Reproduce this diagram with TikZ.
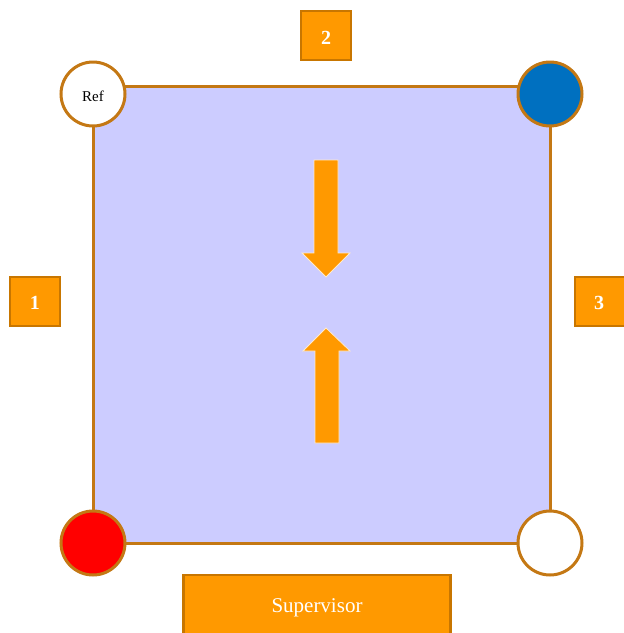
\documentclass[tikz,border=0pt]{standalone}
\usepackage{fontspec}
\setmainfont{Liberation Serif}
\definecolor{edge}{RGB}{196,120,20}
\definecolor{boxedge}{RGB}{200,118,0}
\definecolor{orng}{RGB}{255,153,0}
\definecolor{lav}{RGB}{204,204,255}
\definecolor{blu}{RGB}{0,112,192}
\begin{document}
\begin{tikzpicture}[x=1pt,y=-1pt,
  corner/.style={circle,draw=edge,line width=3pt,minimum size=64pt,inner sep=0pt},
  numbox/.style={draw=boxedge,fill=orng,line width=2.4pt,minimum width=50pt,minimum height=49pt,inner sep=0pt},
  numtext/.style={text=white,font=\bfseries\fontsize{20}{20}\selectfont},
  bigarrow/.style={fill=orng,draw=white!80!orng,line width=0.8pt}]
\useasboundingbox (0,0) rectangle (624,633);
\begin{scope}
\clip (0,0) rectangle (624,633);
\node[draw=edge,fill=lav,line width=3pt,minimum width=457pt,minimum height=457pt,inner sep=0pt] (sq) at (321.5,314.5) {};
\node[corner,fill=white] (ref) at (93,94) {};
\node[font=\fontsize{15}{15}\selectfont] (reflabel) at (93,96) {Ref};
\node[corner,fill=blu] (tr) at (550,94) {};
\node[corner,fill=red] (bl) at (93,543) {};
\node[corner,fill=white] (br) at (550,543) {};
\node[numbox] (b2) at (326,35.5) {};
\node[numtext] (t2) at (326,38) {2};
\node[numbox] (b1) at (35,301.5) {};
\node[numtext] (t1) at (35,303) {1};
\node[numbox] (b3) at (600,301.5) {};
\node[numtext] (t3) at (599,303) {3};
\node[draw=boxedge,fill=orng,line width=2.4pt,minimum width=267pt,minimum height=70pt,inner sep=0pt] (sup) at (317,610) {};
\node[text=white,font=\fontsize{21}{21}\selectfont] (suplabel) at (317,608) {Supervisor};
\draw[bigarrow] (314,160) -- (338,160) -- (338,253) -- (350,253) -- (326,277) -- (302,253) -- (314,253) -- cycle;
\draw[bigarrow] (315,443) -- (339,443) -- (339,351) -- (350,351) -- (326,328) -- (303,351) -- (315,351) -- cycle;
\end{scope}
\end{tikzpicture}
\end{document}
